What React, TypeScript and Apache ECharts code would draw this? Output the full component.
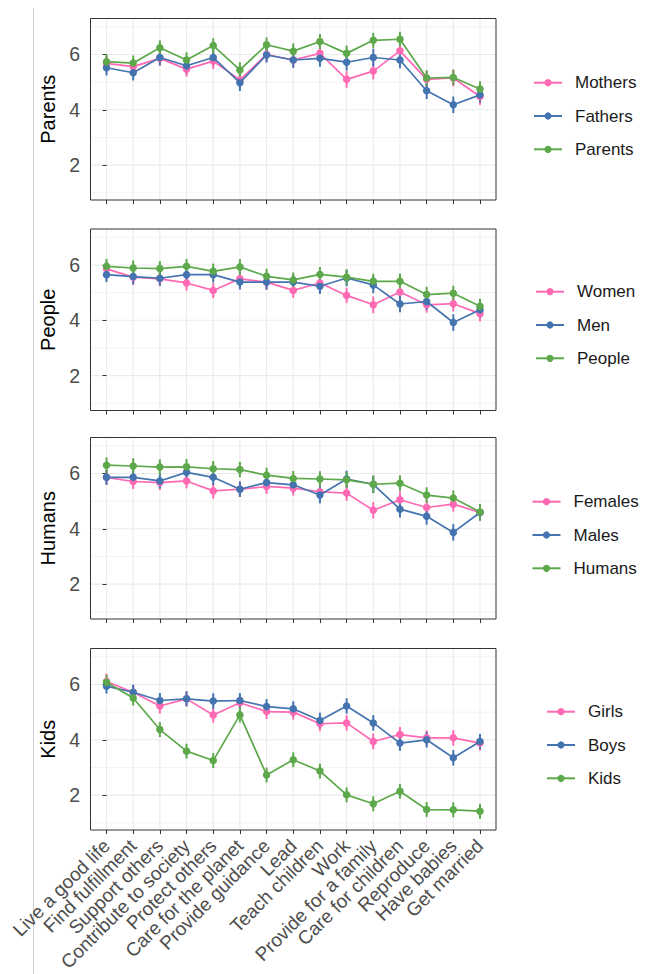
import React, { useEffect, useRef } from "react";
import * as echarts from "echarts";

const categories = [
  "Live a good life", "Find fulfillment", "Support others", "Contribute to society",
  "Protect others", "Care for the planet", "Provide guidance", "Lead", "Teach children",
  "Work", "Provide for a family", "Care for children", "Reproduce", "Have babies", "Get married",
];

const yTicks = [2, 4, 6];
const yMinorTicks = [1, 3, 5, 7];

// Panel 1: Parents
const mothers = [5.68, 5.56, 5.86, 5.47, 5.76, 5.08, 6.0, 5.8, 6.04, 5.1, 5.4, 6.13, 5.1, 5.15, 4.48];
const mothersErr = [0.27, 0.28, 0.27, 0.27, 0.28, 0.28, 0.26, 0.28, 0.27, 0.3, 0.3, 0.26, 0.3, 0.3, 0.3];
const fathers = [5.52, 5.34, 5.89, 5.59, 5.89, 4.98, 5.98, 5.8, 5.86, 5.72, 5.89, 5.8, 4.69, 4.18, 4.54];
const fathersErr = [0.28, 0.28, 0.28, 0.28, 0.28, 0.3, 0.27, 0.28, 0.3, 0.3, 0.32, 0.3, 0.3, 0.3, 0.28];
const parents = [5.74, 5.69, 6.24, 5.8, 6.32, 5.44, 6.35, 6.12, 6.47, 6.04, 6.51, 6.55, 5.15, 5.17, 4.75];
const parentsErr = [0.27, 0.27, 0.27, 0.28, 0.27, 0.28, 0.27, 0.28, 0.27, 0.28, 0.27, 0.27, 0.28, 0.28, 0.28];

// Panel 2: People
const women = [5.86, 5.56, 5.5, 5.35, 5.08, 5.5, 5.38, 5.08, 5.35, 4.9, 4.56, 5.02, 4.56, 4.6, 4.24];
const womenErr = [0.27, 0.28, 0.27, 0.28, 0.28, 0.28, 0.27, 0.27, 0.28, 0.28, 0.3, 0.28, 0.28, 0.28, 0.28];
const men = [5.65, 5.58, 5.52, 5.65, 5.65, 5.38, 5.38, 5.38, 5.23, 5.53, 5.28, 4.59, 4.68, 3.92, 4.38];
const menErr = [0.27, 0.28, 0.27, 0.27, 0.28, 0.27, 0.27, 0.28, 0.28, 0.3, 0.3, 0.3, 0.3, 0.3, 0.3];
const people = [5.95, 5.89, 5.87, 5.95, 5.77, 5.93, 5.59, 5.46, 5.66, 5.56, 5.41, 5.41, 4.93, 4.98, 4.51];
const peopleErr = [0.27, 0.27, 0.27, 0.27, 0.28, 0.28, 0.27, 0.27, 0.27, 0.28, 0.27, 0.28, 0.28, 0.27, 0.27];

// Panel 3: Humans
const females = [5.86, 5.71, 5.67, 5.73, 5.37, 5.43, 5.53, 5.47, 5.34, 5.29, 4.67, 5.05, 4.77, 4.89, 4.59];
const femalesErr = [0.27, 0.27, 0.27, 0.27, 0.28, 0.28, 0.27, 0.27, 0.28, 0.28, 0.3, 0.3, 0.27, 0.27, 0.27];
const males = [5.86, 5.86, 5.73, 6.04, 5.86, 5.43, 5.67, 5.59, 5.22, 5.8, 5.61, 4.71, 4.45, 3.87, 4.59];
const malesErr = [0.27, 0.27, 0.27, 0.27, 0.28, 0.28, 0.27, 0.27, 0.3, 0.3, 0.32, 0.3, 0.3, 0.3, 0.3];
const humans = [6.3, 6.27, 6.23, 6.24, 6.17, 6.14, 5.94, 5.82, 5.8, 5.77, 5.61, 5.65, 5.22, 5.11, 4.61];
const humansErr = [0.28, 0.28, 0.28, 0.28, 0.28, 0.28, 0.27, 0.27, 0.28, 0.28, 0.3, 0.28, 0.28, 0.28, 0.28];

// Panel 4: Kids
const girls = [6.11, 5.72, 5.22, 5.48, 4.9, 5.34, 5.02, 5.0, 4.58, 4.61, 3.94, 4.19, 4.07, 4.07, 3.88];
const girlsErr = [0.28, 0.27, 0.27, 0.27, 0.28, 0.28, 0.27, 0.27, 0.27, 0.28, 0.28, 0.27, 0.27, 0.28, 0.27];
const boys = [5.94, 5.72, 5.42, 5.48, 5.4, 5.42, 5.2, 5.12, 4.7, 5.22, 4.61, 3.88, 4.0, 3.35, 3.94];
const boysErr = [0.27, 0.27, 0.27, 0.27, 0.28, 0.27, 0.27, 0.27, 0.28, 0.28, 0.28, 0.28, 0.28, 0.28, 0.27];
const kids = [6.08, 5.51, 4.37, 3.59, 3.25, 4.9, 2.73, 3.28, 2.87, 2.01, 1.69, 2.14, 1.48, 1.47, 1.42];
const kidsErr = [0.27, 0.27, 0.27, 0.27, 0.27, 0.27, 0.27, 0.27, 0.27, 0.27, 0.27, 0.27, 0.27, 0.27, 0.27];

const panelTitles = ["Parents", "People", "Humans", "Kids"];
const panelSeriesNames = [
  ["Mothers", "Fathers", "Parents"],
  ["Women", "Men", "People"],
  ["Females", "Males", "Humans"],
  ["Girls", "Boys", "Kids"],
];
const panelValues = [
  [mothers, fathers, parents],
  [women, men, people],
  [females, males, humans],
  [girls, boys, kids],
];
const panelErrors = [
  [mothersErr, fathersErr, parentsErr],
  [womenErr, menErr, peopleErr],
  [femalesErr, malesErr, humansErr],
  [girlsErr, boysErr, kidsErr],
];

const COLORS = ["#FF69B4", "#4474B0", "#5CA84A"];
const FONT = "Liberation Sans, Arial, Helvetica, sans-serif";
const Y_MIN = 0.74;
const Y_MAX = 7.3;
const EXPAND = 0.6;
const X_MIN = -EXPAND;
const X_MAX = categories.length - 1 + EXPAND;

const GRID_LEFT = 90.5;
const GRID_WIDTH = 405.5;
const GRID_TOPS = [18.5, 229, 437.5, 648.5];
const GRID_HEIGHT = 181.5;
const LEGEND_LEFTS = [533, 535, 531.5, 546];
const LEGEND_FIRST_CENTERS = [82.7, 291.7, 501.7, 711.7];

export default function App() {
  const ref = useRef<HTMLDivElement>(null);

  useEffect(() => {
    if (!ref.current) return;
    const chart = echarts.init(ref.current, null, { renderer: "svg" });

    const xIdx = categories.map((_, i) => i);

    const grids: any[] = [];
    const xAxes: any[] = [];
    const yAxes: any[] = [];
    const series: any[] = [];
    const legends: any[] = [];

    panelTitles.forEach((title, p) => {
      grids.push({
        left: GRID_LEFT,
        top: GRID_TOPS[p],
        width: GRID_WIDTH,
        height: GRID_HEIGHT,
        show: true,
        backgroundColor: "transparent",
        borderColor: "#333333",
        borderWidth: 1,
        z: 10,
      });
      xAxes.push({
        type: "value",
        gridIndex: p,
        min: X_MIN,
        max: X_MAX,
        axisLine: { show: false },
        splitLine: { show: false },
        axisTick: {
          show: true,
          customValues: xIdx,
          length: 4,
          lineStyle: { color: "#333333", width: 1 },
        },
        axisLabel: { show: false },
      });
      yAxes.push({
        type: "value",
        gridIndex: p,
        min: Y_MIN,
        max: Y_MAX,
        name: title,
        nameLocation: "middle",
        nameGap: 28,
        nameTextStyle: { fontSize: 20, color: "#000000", fontFamily: FONT },
        axisLine: { show: false },
        splitLine: { show: false },
        axisTick: {
          show: true,
          customValues: yTicks,
          length: 4,
          lineStyle: { color: "#333333", width: 1 },
        },
        axisLabel: {
          customValues: yTicks,
          margin: 10.5,
          fontSize: 19.5,
          color: "#4D4D4D",
          fontFamily: FONT,
        },
      });

      // grid lines through the axis scales
      const gridData: any[] = [];
      xIdx.forEach((v) => gridData.push([v, 0]));
      yTicks.forEach((v) => gridData.push([v, 1]));
      yMinorTicks.forEach((v) => gridData.push([v, 2]));
      series.push({
        type: "custom",
        xAxisIndex: p,
        yAxisIndex: p,
        silent: true,
        z: 0,
        encode: { x: -1, y: -1 },
        data: gridData,
        renderItem: (_params: any, api: any) => {
          const v = api.value(0);
          const kind = api.value(1);
          let a, b;
          if (kind === 0) {
            a = api.coord([v, Y_MIN]);
            b = api.coord([v, Y_MAX]);
          } else {
            a = api.coord([X_MIN, v]);
            b = api.coord([X_MAX, v]);
          }
          return {
            type: "line",
            shape: { x1: a[0], y1: a[1], x2: b[0], y2: b[1] },
            style: { stroke: "#EBEBEB", lineWidth: kind === 2 ? 0.6 : 1.1 },
          };
        },
      });

      panelSeriesNames[p].forEach((name, s) => {
        const vals = panelValues[p][s];
        const errs = panelErrors[p][s];
        series.push({
          type: "custom",
          name: name + " error",
          xAxisIndex: p,
          yAxisIndex: p,
          silent: true,
          z: 2 + s * 0.01,
          data: vals.map((v, i) => [i, v, errs[i]]),
          renderItem: (_params: any, api: any) => {
            const x = api.value(0);
            const y = api.value(1);
            const e = api.value(2);
            const top = api.coord([x, y + e]);
            const bot = api.coord([x, y - e]);
            return {
              type: "line",
              shape: { x1: top[0], y1: top[1], x2: bot[0], y2: bot[1] },
              style: { stroke: COLORS[s], lineWidth: 2 },
            };
          },
        });
        series.push({
          type: "line",
          name,
          xAxisIndex: p,
          yAxisIndex: p,
          z: 3 + s * 0.01,
          data: vals.map((v, i) => [i, v]),
          symbol: "circle",
          symbolSize: 7.5,
          showSymbol: true,
          color: COLORS[s],
          lineStyle: { width: 1.7, color: COLORS[s] },
          itemStyle: { color: COLORS[s] },
          emphasis: { disabled: true },
        });
      });

      legends.push({
        data: panelSeriesNames[p],
        orient: "vertical",
        left: LEGEND_LEFTS[p],
        top: LEGEND_FIRST_CENTERS[p] - 8.5,
        padding: 0,
        itemWidth: 28,
        itemHeight: 9,
        itemGap: 16.3,
        selectedMode: false,
        textStyle: {
          fontSize: 17,
          color: "#1A1A1A",
          fontFamily: FONT,
          padding: [0, 0, 0, 8],
        },
      });
    });

    // Category label strip under the last panel: band centres coincide with the
    // value-axis ticks (0.6 expansion => inset of 0.1 unit on each side).
    const unit = GRID_WIDTH / (categories.length - 1 + 2 * EXPAND);
    const inset = unit * (EXPAND - 0.5);
    const lastBottom = GRID_TOPS[GRID_TOPS.length - 1] + GRID_HEIGHT;
    const labelGrid = grids.length;
    grids.push({
      left: GRID_LEFT + inset,
      width: GRID_WIDTH - 2 * inset,
      top: lastBottom - 1,
      height: 1,
      show: false,
    });
    xAxes.push({
      type: "category",
      gridIndex: labelGrid,
      data: categories,
      boundaryGap: true,
      axisLine: { show: false },
      axisTick: { show: false },
      splitLine: { show: false },
      axisLabel: {
        interval: 0,
        rotate: 45,
        margin: 13,
        fontSize: 19,
        color: "#4D4D4D",
        fontFamily: FONT,
      },
    });
    yAxes.push({
      type: "value",
      gridIndex: labelGrid,
      show: false,
      min: 0,
      max: 1,
    });

    chart.setOption({
      animation: false,
      backgroundColor: "#FFFFFF",
      grid: grids,
      xAxis: xAxes,
      yAxis: yAxes,
      series,
      legend: legends,
      graphic: [
        {
          type: "line",
          shape: { x1: 33.5, y1: 8, x2: 33.5, y2: 974 },
          style: { stroke: "#D3D3D3", lineWidth: 1 },
          silent: true,
        },
      ],
    });

    return () => chart.dispose();
  }, []);

  return (
    <div
      ref={ref}
      style={{ position: "fixed", left: 0, top: 0, width: 651, height: 974 }}
    />
  );
}
